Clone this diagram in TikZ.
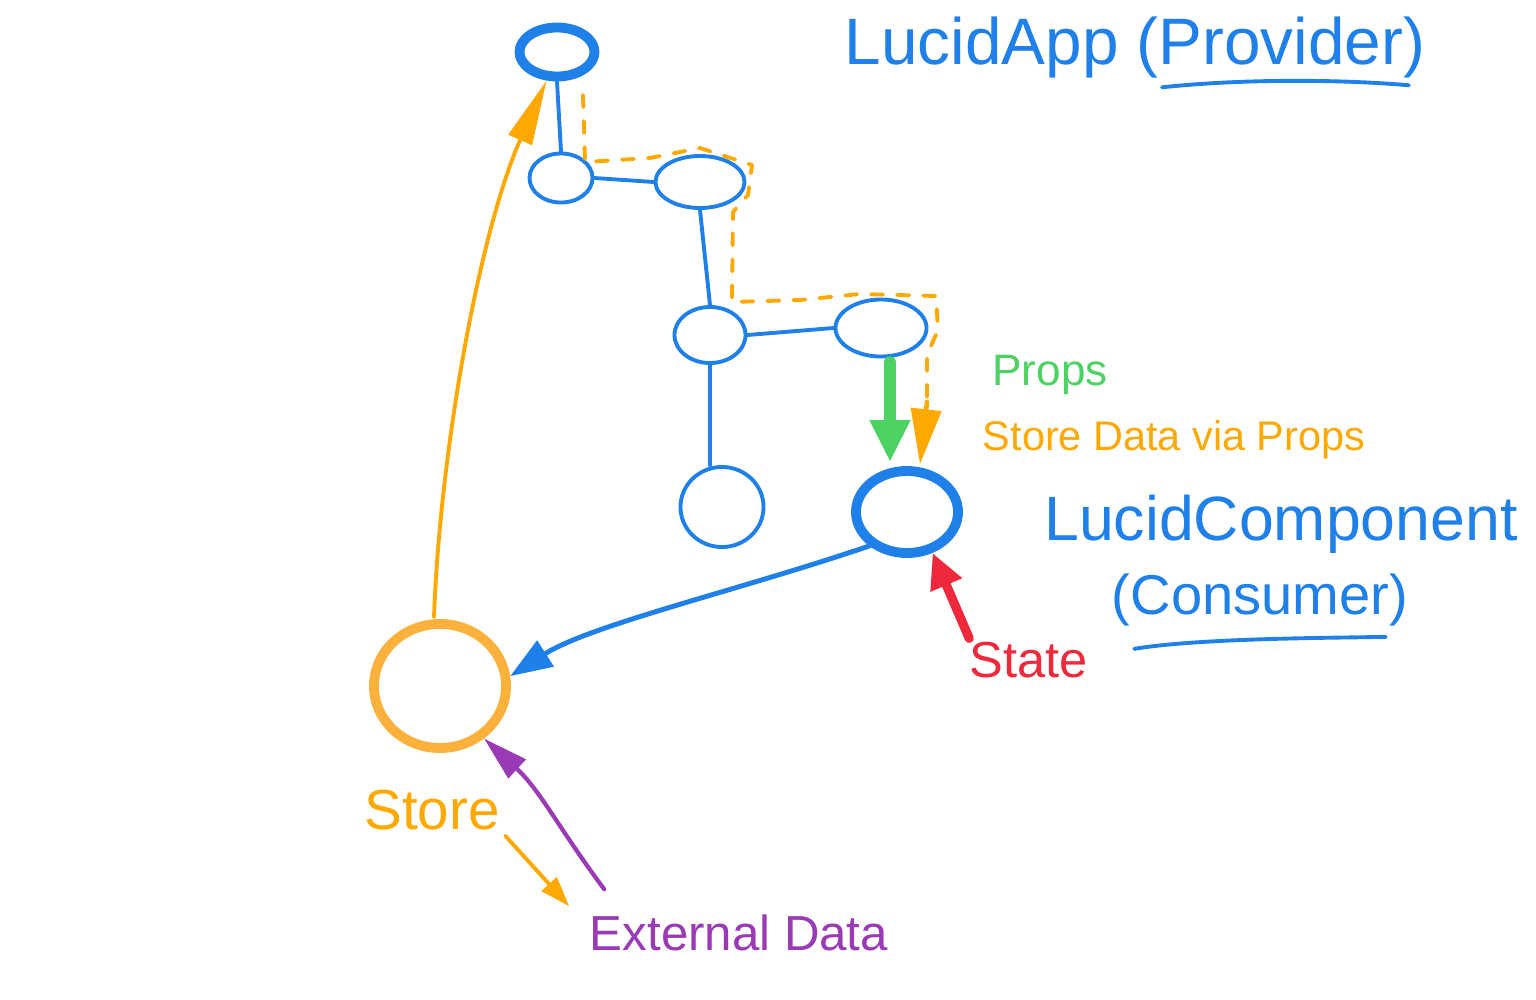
\documentclass[tikz,border=0pt]{standalone}
\usepackage{fontspec}
\setmainfont{Liberation Sans}
\usetikzlibrary{arrows.meta,shapes.geometric,calc}
\definecolor{cblue}{HTML}{1E80E8}
\definecolor{corange}{HTML}{FFA800}
\definecolor{cstore}{HTML}{FBB13C}
\definecolor{cgreen}{HTML}{4CD262}
\definecolor{cred}{HTML}{F0283C}
\definecolor{cpurple}{HTML}{9A3AB5}
\newcommand{\fitw}[2]{\resizebox{#1}{!}{#2}}
\begin{document}
\begin{tikzpicture}[x=0.01cm,y=-0.01cm,line cap=round,line join=round,
  comp/.style={ellipse,draw=cblue,line width=1.1pt,inner sep=0pt},
  thickcomp/.style={comp,line width=2.8pt},
  storecirc/.style={ellipse,draw=cstore,line width=2.8pt,inner sep=0pt},
  lbl/.style={inner sep=0pt,anchor=center},
  thinline/.style={cblue,line width=1.1pt},
  dashline/.style={corange,line width=1.1pt,dash pattern=on 0.12cm off 0.14cm},
]
\useasboundingbox (0,0) rectangle (1536,1000);
\fill[white] (0,0) rectangle (1536,1000);

% component tree
\node[thickcomp,minimum width=0.75cm,minimum height=0.49cm] (root) at (557,52) {};
\node[comp,minimum width=0.63cm,minimum height=0.49cm] (a) at (561,178) {};
\node[comp,minimum width=0.89cm,minimum height=0.52cm] (b) at (700,182) {};
\node[comp,minimum width=0.71cm,minimum height=0.56cm] (c) at (710,335) {};
\node[comp,minimum width=0.91cm,minimum height=0.57cm] (d) at (881,328) {};
\node[comp,minimum width=0.83cm,minimum height=0.8cm] (e) at (722,507) {};
\node[thickcomp,minimum width=1.02cm,minimum height=0.82cm] (f) at (907,512) {};
\node[storecirc,minimum width=1.32cm,minimum height=1.24cm] (store) at (440,686) {};

% labels
\node[lbl,text=cblue] (app) at (1135,48) {\fitw{5.8cm}{LucidApp (Provider)}};
\node[lbl,text=cgreen] (props) at (1050,375) {\fitw{1.15cm}{Props}};
\node[lbl,text=corange] (sdata) at (1174,440) {\fitw{3.82cm}{Store Data via Props}};
\node[lbl,text=cblue] (lcomp) at (1281,524) {\fitw{4.73cm}{LucidComponent}};
\node[lbl,text=cblue] (cons) at (1260,600) {\fitw{2.96cm}{(Consumer)}};
\node[lbl,text=cred] (state) at (1029,660) {\fitw{1.18cm}{State}};
\node[lbl,text=corange] (storelbl) at (432,810) {\fitw{1.35cm}{Store}};
\node[lbl,text=cpurple] (ext) at (739,933) {\fitw{2.98cm}{External Data}};

% underlines
\draw[thinline] ($(app.south)+(27,8)$) .. controls (1250,78) and (1350,80) .. ($(app.south east)+(-17,6)$);
\draw[thinline] ($(cons.south west)+(23,22)$) .. controls (1200,638) and (1330,638) .. ($(cons.south east)+(-23,10)$);

% tree edges
\draw[thinline] (root.south) -- (a.north);
\draw[thinline] (a.east) -- (b.west);
\draw[thinline] (b.south) -- (c.north);
\draw[thinline] (c.east) -- (d.west);
\draw[thinline] (c.south) -- (c.south |- e.north);

% store data dashed path
\coordinate (ds) at (583,95);
\coordinate (de) at (927,402);
\draw[dashline] (ds) -- (585,162) -- (650,158) -- (700,148) -- (752,165) -- (748,195) -- (733,212) -- (732,302) -- (800,300) -- (860,294) -- (936,296) -- (938,330) -- (927,355) -- (de);
\draw[corange,line width=1.3pt,-{Triangle[length=0.55cm,width=0.3cm]}] (de) -- ($(f.north)+(13,-2)$);

% props arrow
\draw[cgreen,line width=3.5pt,-{Triangle[length=0.42cm,width=0.38cm]}] ($(d.south)+(9,4)$) -- ($(f.north)+(-17,-4)$);

% consumer to store
\draw[cblue,line width=1.4pt,-{Triangle[length=0.42cm,width=0.3cm]}] (f.222) .. controls (740,590) and (590,625) .. (store.8);

% store to root
\draw[corange,line width=1.1pt,-{Triangle[length=0.65cm,width=0.25cm]}] ($(store.north)+(-6,-2)$) .. controls (440,450) and (480,230) .. (root.250);

% external data to store
\coordinate (es) at ($(ext.north west)+(15,-25)$);
\draw[cpurple,line width=1.2pt,-{Triangle[length=0.45cm,width=0.25cm]}] (es) .. controls (560,830) and (540,790) .. (store.-50);

% store to external data
\draw[corange,line width=1.1pt,-{Triangle[length=0.3cm,width=0.2cm]}] ($(storelbl.south east)+(5,5)$) -- ($(ext.north west)+(-20,-8)$);

% state arrow
\draw[cred,line width=2.6pt,-{Triangle[length=0.35cm,width=0.32cm]}] ($(state.north west)+(0,-3)$) -- (f.-58);
\end{tikzpicture}
\end{document}
